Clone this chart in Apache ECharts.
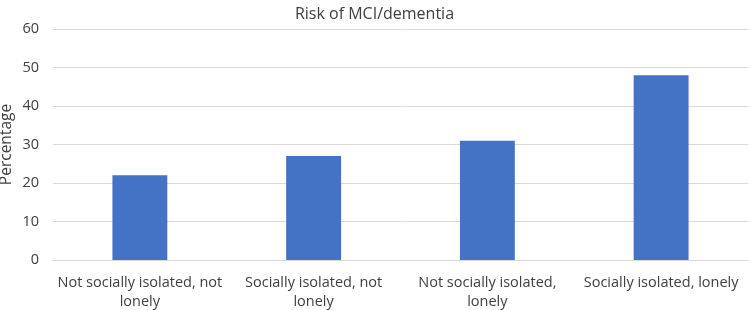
<!DOCTYPE html>
<html>
<head>
<meta charset="utf-8">
<script src="https://cdn.jsdelivr.net/npm/echarts@6/dist/echarts.min.js"></script>
<style>
  html, body { margin: 0; padding: 0; background: #fff; }
  #chart { width: 749px; height: 310px; }
</style>
</head>
<body>
<div id="chart"></div>
<script>
var categories = [
  "Not socially isolated, not\nlonely",
  "Socially isolated, not\nlonely",
  "Not socially isolated,\nlonely",
  "Socially isolated, lonely"
];
var riskValues = [22, 27, 31, 48];
var yTicks = { min: 0, max: 60, interval: 10 };

var chart = echarts.init(document.getElementById("chart"), null, { renderer: "canvas" });
var option = {
  animation: false,
  textStyle: { fontFamily: "Open Sans" },
  title: {
    text: "Risk of MCI/dementia",
    left: "center",
    top: 1,
    textStyle: { fontSize: 16, fontWeight: "normal", color: "#404040", fontFamily: "Open Sans" }
  },
  grid: { left: 53, right: 1, top: 29, bottom: 50, containLabel: false, outerBoundsMode: "none" },
  xAxis: {
    type: "category",
    data: categories,
    axisLine: { show: true, lineStyle: { color: "#d9d9d9" } },
    axisTick: { show: false },
    axisLabel: { color: "#404040", fontSize: 14.5, lineHeight: 19, margin: 13, interval: 0 }
  },
  yAxis: {
    type: "value",
    min: yTicks.min,
    max: yTicks.max,
    interval: yTicks.interval,
    name: "Percentage",
    nameLocation: "middle",
    nameGap: 38,
    nameMoveOverlap: false,
    nameRotate: 90,
    nameTextStyle: { color: "#404040", fontSize: 15.5 },
    axisLine: { show: false },
    axisTick: { show: false },
    axisLabel: { color: "#404040", fontSize: 14.5, margin: 14 },
    splitLine: { lineStyle: { color: "#d9d9d9", width: 1 } }
  },
  series: [
    {
      type: "bar",
      data: riskValues,
      barWidth: "31.6%",
      itemStyle: { color: "#4472C4" }
    }
  ]
};
chart.setOption(option);
</script>
</body>
</html>
